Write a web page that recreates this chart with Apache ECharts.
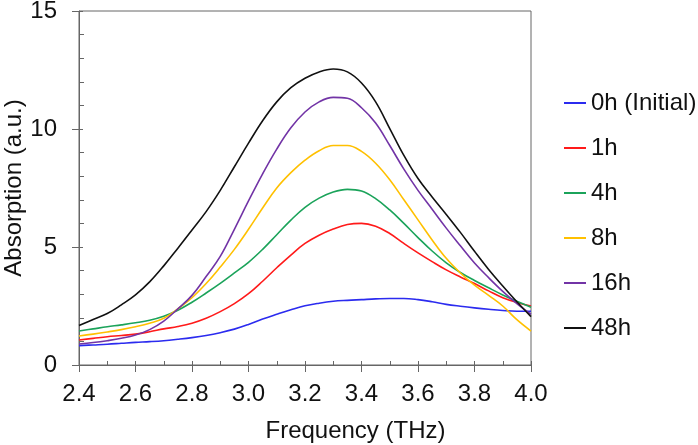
<!DOCTYPE html>
<html>
<head>
<meta charset="utf-8">
<script src="https://cdn.jsdelivr.net/npm/echarts@6/dist/echarts.min.js"></script>
<style>html,body{margin:0;padding:0;background:#fff;}#c{width:698px;height:445px;}</style>
</head>
<body>
<div id="c"></div>
<script>
const freq = [2.40,2.45,2.50,2.55,2.60,2.65,2.70,2.75,2.80,2.85,2.90,2.95,3.00,3.05,3.10,3.15,3.20,3.25,3.30,3.35,3.40,3.45,3.50,3.55,3.60,3.65,3.70,3.75,3.80,3.85,3.90,3.95,4.00];
const seriesNames = ['0h (Initial)','1h','4h','8h','16h','48h'];
const h0  = [0.82,0.85,0.88,0.92,0.96,0.99,1.03,1.09,1.16,1.25,1.37,1.52,1.72,1.95,2.15,2.34,2.51,2.62,2.70,2.74,2.77,2.80,2.82,2.82,2.77,2.68,2.57,2.49,2.42,2.36,2.31,2.28,2.28];
const h1  = [1.06,1.13,1.20,1.25,1.31,1.41,1.53,1.63,1.77,1.98,2.26,2.60,3.02,3.55,4.12,4.66,5.15,5.50,5.76,5.95,6.00,5.88,5.57,5.15,4.75,4.38,4.03,3.73,3.45,3.14,2.85,2.65,2.50];
const h4  = [1.44,1.53,1.62,1.70,1.79,1.90,2.07,2.32,2.66,3.05,3.46,3.90,4.35,4.90,5.52,6.14,6.68,7.07,7.33,7.44,7.37,7.05,6.57,6.00,5.40,4.83,4.33,3.92,3.58,3.27,2.97,2.70,2.45];
const h8  = [1.23,1.31,1.40,1.50,1.62,1.77,1.98,2.38,2.85,3.45,4.15,4.90,5.75,6.65,7.50,8.15,8.68,9.08,9.30,9.30,9.05,8.55,7.85,7.00,6.15,5.30,4.52,3.90,3.38,2.95,2.50,1.92,1.44];
const h16 = [0.89,0.95,1.03,1.13,1.27,1.50,1.86,2.38,2.95,3.75,4.60,5.75,6.95,8.10,9.15,10.05,10.72,11.15,11.34,11.30,10.90,10.25,9.30,8.30,7.40,6.60,5.80,5.05,4.32,3.70,3.12,2.60,2.15];
const h48 = [1.67,1.93,2.18,2.55,2.97,3.52,4.20,4.95,5.72,6.50,7.40,8.40,9.40,10.35,11.15,11.75,12.15,12.42,12.54,12.42,11.95,11.15,10.02,8.88,7.90,7.12,6.38,5.62,4.82,4.05,3.35,2.68,2.05];
const xTicks = [2.4,2.6,2.8,3.0,3.2,3.4,3.6,3.8,4.0];
const yTicks = [0,5,10,15];
const colors = ['#2b2bef','#ff1a1a','#1ba35a','#ffc000','#7234a6','#111111'];
const allValues = [h0,h1,h4,h8,h16,h48];

const FONT = '"Liberation Sans", Arial, sans-serif';
const axisGrey = '#666';

const chart = echarts.init(document.getElementById('c'), null, {renderer:'canvas'});
const option = {
  backgroundColor: '#fff',
  animation: false,
  textStyle: {fontFamily: FONT},
  grid: {left: 79, right: 167, top: 11, bottom: 80, outerBoundsMode: 'none', containLabel: false,
    show: true, borderColor: axisGrey, borderWidth: 1, backgroundColor: 'transparent'},
  legend: {
    orient: 'vertical', left: 559, top: 86,
    icon: 'rect', itemWidth: 22, itemHeight: 2, itemGap: 21,
    textStyle: {fontSize: 24, color: '#111', fontFamily: FONT, lineHeight: 24},
    data: seriesNames
  },
  xAxis: [{
    type: 'value', min: 2.4, max: 4.0, interval: 0.2,
    name: 'Frequency (THz)', nameLocation: 'middle', nameGap: 54, nameMoveOverlap: false,
    nameTextStyle: {fontSize: 24, color: '#111', fontFamily: FONT, padding: [0,0,0,101]},
    axisLine: {show: true, lineStyle: {color: axisGrey, width: 1}},
    axisTick: {show: true, inside: true, length: 4, lineStyle: {color: axisGrey}},
    minorTick: {show: true, splitNumber: 2, length: 4, lineStyle: {color: axisGrey}},
    axisLabel: {fontSize: 24, color: '#111', margin: 17, fontFamily: FONT,
      formatter: v => xTicks.some(t => Math.abs(t - v) < 1e-6) ? v.toFixed(1) : ''},
    splitLine: {show: false}
  }, {
    type: 'value', min: 2.4, max: 4.0, interval: 0.2, position: 'bottom', gridIndex: 0,
    axisLine: {show: false},
    axisTick: {show: true, inside: false, length: 7, lineStyle: {color: axisGrey}},
    axisLabel: {show: false}, splitLine: {show: false}
  }],
  yAxis: [{
    type: 'value', min: 0, max: 15, interval: 5,
    name: 'Absorption (a.u.)', nameLocation: 'middle', nameGap: 53, nameMoveOverlap: false,
    nameTextStyle: {fontSize: 24, color: '#111', fontFamily: FONT},
    axisLine: {show: true, lineStyle: {color: axisGrey, width: 1}},
    axisTick: {show: true, inside: true, length: 4, lineStyle: {color: axisGrey}},
    minorTick: {show: true, splitNumber: 5, length: 5, lineStyle: {color: axisGrey}},
    axisLabel: {fontSize: 24, color: '#111', margin: 22, fontFamily: FONT,
      formatter: v => yTicks.indexOf(v) >= 0 ? String(v) : ''},
    splitLine: {show: false}
  }, {
    type: 'value', min: 0, max: 15, interval: 5, position: 'left', gridIndex: 0,
    axisLine: {show: false},
    axisTick: {show: true, inside: false, length: 7, lineStyle: {color: axisGrey}},
    axisLabel: {show: false}, splitLine: {show: false}
  }],
  series: seriesNames.map((n, i) => ({
    name: n, type: 'line', smooth: 0.4, showSymbol: false, symbol: 'none',
    xAxisIndex: 0, yAxisIndex: 0,
    color: colors[i],
    lineStyle: {color: colors[i], width: 1.6},
    data: freq.map((f, k) => [f, allValues[i][k]])
  }))
};
chart.setOption(option);
</script>
</body>
</html>
